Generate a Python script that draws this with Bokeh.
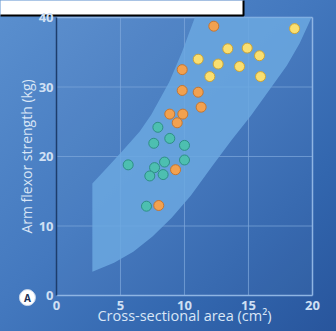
from bokeh.plotting import figure
from bokeh.models import FixedTicker, Range1d
from bokeh.core.properties import value
from bokeh.embed import file_html
from bokeh.resources import INLINE

# Data
teal_x = [7.92, 8.85, 7.6, 10.0, 10.0, 8.44, 7.66, 7.29, 8.33, 7.03, 5.6]
teal_y = [24.2, 22.6, 21.9, 21.6, 19.5, 19.2, 18.4, 17.2, 17.4, 12.85, 18.8]
orange_x = [12.29, 9.82, 9.82, 11.07, 11.3, 8.85, 9.87, 9.43, 9.3, 7.99]
orange_y = [38.75, 32.5, 29.5, 29.25, 27.1, 26.1, 26.1, 24.85, 18.1, 12.95]
yellow_x = [18.6, 13.38, 14.9, 15.86, 11.07, 12.63, 14.3, 11.98, 15.94]
yellow_y = [38.4, 35.5, 35.6, 34.5, 34.0, 33.3, 32.95, 31.5, 31.5]

# Shaded range band (upper and lower boundaries)
band_upper_x = [2.8, 4.0, 5.2, 6.5, 7.4, 8.8, 9.8, 10.75, 10.8]
band_upper_y = [16.1, 18.5, 20.9, 23.6, 26.0, 30.7, 35.0, 39.7, 40.0]
band_lower_x = [2.8, 4.5, 6.0, 7.5, 9.0, 10.5, 12.2, 13.7, 15.2, 16.6, 18.0, 19.0, 19.85, 19.9]
band_lower_y = [3.4, 4.7, 6.3, 8.5, 11.2, 14.4, 18.7, 22.4, 25.9, 29.5, 33.1, 36.3, 39.7, 40.0]

x_ticks = [0, 5, 10, 15, 20]
y_ticks = [0, 10, 20, 30, 40]
x_grid = [5, 10, 15]
y_grid = [10, 20, 30]
x_lim = (0, 20)
y_lim = (0, 40)

FONT = "Open Sans"
LIGHT = "#d9e6f6"
GRID = "#7fa8dc"

W, H = 336, 331
LEFT, RIGHT, TOP, BOTTOM = 56, 24, 17, 36
sx = (W - LEFT - RIGHT) / (x_lim[1] - x_lim[0])
sy = (H - TOP - BOTTOM) / (y_lim[1] - y_lim[0])

p = figure(width=W, height=H,
           x_range=Range1d(x_lim[0] - LEFT / sx, x_lim[1] + RIGHT / sx),
           y_range=Range1d(y_lim[0] - BOTTOM / sy, y_lim[1] + TOP / sy),
           output_backend="svg", toolbar_location=None,
           min_border=0)
p.styles = {"background": "linear-gradient(135deg, #5b90cf 0%, #4479bf 45%, #3266ae 75%, #28559c 100%)"}
p.border_fill_alpha = 0
p.background_fill_alpha = 0
p.outline_line_color = None
p.grid.visible = False

# plot area tint, grid and frame lines
p.quad(left=[x_lim[0]], right=[x_lim[1]], bottom=[y_lim[0]], top=[y_lim[1]],
       fill_color="white", fill_alpha=0.03, line_color=None)
p.segment(x0=x_grid, y0=[y_lim[0]] * 3, x1=x_grid, y1=[y_lim[1]] * 3,
          line_color=GRID, line_alpha=0.7, line_width=1.1)
p.segment(x0=[x_lim[0]] * 3, y0=y_grid, x1=[x_lim[1]] * 3, y1=y_grid,
          line_color=GRID, line_alpha=0.7, line_width=1.1)
p.segment(x0=[x_lim[0], x_lim[1]], y0=[y_lim[1], y_lim[0]],
          x1=[x_lim[1], x_lim[1]], y1=[y_lim[1], y_lim[1]],
          line_color="#8fb5e3", line_width=1.5)

# band
xs = band_upper_x + band_lower_x[::-1]
ys = band_upper_y + band_lower_y[::-1]
p.patch(xs, ys, fill_color="#6ba8e0", fill_alpha=0.85, line_color=None)

p.scatter(teal_x, teal_y, size=10, fill_color="#4dbfb0", line_color="#2e8f86", line_width=1)
p.scatter(orange_x, orange_y, size=10, fill_color="#f2a14f", line_color="#c57632", line_width=1)
p.scatter(yellow_x, yellow_y, size=10, fill_color="#fadf70", line_color="#c9a33a", line_width=1)

# axes fixed at the data origin
p.xaxis.fixed_location = y_lim[0]
p.yaxis.fixed_location = x_lim[0]
p.xaxis.bounds = x_lim
p.yaxis.bounds = y_lim
p.xaxis.ticker = FixedTicker(ticks=x_ticks)
p.yaxis.ticker = FixedTicker(ticks=y_ticks)
p.xaxis.axis_label = "Cross-sectional area (cm²)"
p.yaxis.axis_label = "Arm flexor strength (kg)"
for ax in (p.xaxis, p.yaxis):
    ax.axis_label_text_font = FONT
    ax.axis_label_text_font_style = "normal"
    ax.axis_label_text_color = LIGHT
    ax.major_label_text_font = FONT
    ax.major_label_text_font_size = "13px"
    ax.major_label_text_font_style = "bold"
    ax.major_label_text_color = "#d0e0f4"
    ax.major_tick_line_color = None
    ax.minor_tick_line_color = None
    ax.major_tick_out = 0
    ax.major_tick_in = 0
    ax.minor_tick_out = 0
    ax.minor_tick_in = 0
p.xaxis.axis_label_text_font_size = "14.5px"
p.yaxis.axis_label_text_font_size = "14px"
p.xaxis.axis_line_color = "#8fb5e3"
p.xaxis.axis_line_width = 1.5
p.yaxis.axis_line_color = "#1d3d6c"
p.yaxis.axis_line_width = 1.5
p.xaxis.major_label_standoff = 5
p.xaxis.axis_label_standoff = -7
p.yaxis.major_label_standoff = 3
p.yaxis.axis_label_standoff = 0

# Title box (cropped at the top of the reference)
p.quad(left=[-5], right=[14.61], bottom=[y_lim[1] + 2 / sy], top=[y_lim[1] + 30 / sy],
       fill_color="white", line_color="black", line_width=2)

# Panel marker "A"
p.scatter([-2.27], [-0.3], size=16, fill_color="white", line_color="#c8d6ea", line_width=1)
p.text([-2.27], [-0.3], text=["A"], text_font=value(FONT), text_font_size="10px",
       text_font_style="bold", text_color="#1b2f55",
       text_align="center", text_baseline="middle")

open("out.html", "w").write(file_html(p, INLINE))
